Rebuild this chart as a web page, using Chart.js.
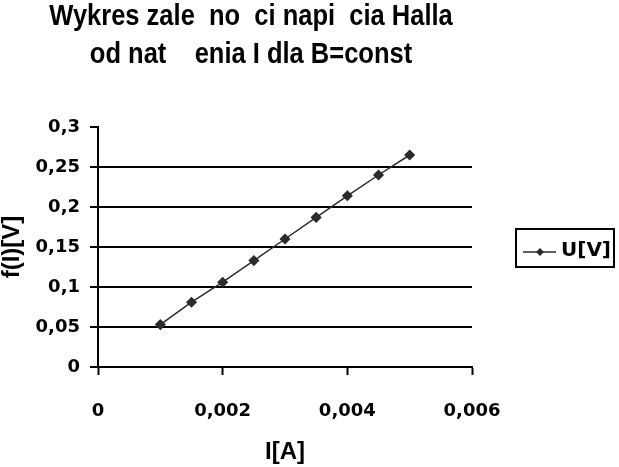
<!DOCTYPE html>
<html>
<head>
<meta charset="utf-8">
<script src="https://cdn.jsdelivr.net/npm/chart.js@4.4.0/dist/chart.umd.min.js"></script>
<style>
  html, body { margin: 0; padding: 0; background: #fff; }
</style>
</head>
<body>
<canvas id="myChart" width="619" height="467"></canvas>
<script>
// title as it shows in the picture (Polish letters lost in the original)
const titleLines = ['Wykres zale  no  ci napi  cia Halla', 'od nat    enia I dla B=const'];

// measured points
const currentA = [0.001, 0.0015, 0.002, 0.0025, 0.003, 0.0035, 0.004, 0.0045, 0.005];
const voltageV = [0.053, 0.081, 0.106, 0.133, 0.160, 0.187, 0.214, 0.240, 0.265];
const seriesName = 'U[V]';

const xTickLabels = ['0', '0,002', '0,004', '0,006'];
const yTickLabels = ['0', '0,05', '0,1', '0,15', '0,2', '0,25', '0,3'];

const tickFont = { family: '"DejaVu Sans", sans-serif', weight: 'bold', size: 18 };
const axisTitleFont = { family: '"Liberation Sans", Arial, sans-serif', weight: 'bold', size: 24, lineHeight: 1 };

// two line header, a bit condensed like the original
const headerPlugin = {
    id: 'header',
    afterDraw(chart) {
        const c = chart.ctx;
        c.save();
        c.fillStyle = '#000';
        c.font = 'bold 30px "Liberation Sans", Arial, sans-serif';
        c.textAlign = 'center';
        c.textBaseline = 'alphabetic';
        [25, 63].forEach((y, i) => {
            c.save();
            c.translate(251, y);
            c.scale(0.85, 1);
            c.fillText(titleLines[i], 0, 0);
            c.restore();
        });
        c.restore();
    }
};

// boxed legend on the right
const boxLegend = {
    id: 'boxLegend',
    afterDraw(chart) {
        const c = chart.ctx;
        const ds = chart.data.datasets[0];
        c.save();
        c.strokeStyle = '#000';
        c.lineWidth = 2;
        c.strokeRect(516, 229, 98, 38);
        c.strokeStyle = ds.borderColor;
        c.lineWidth = 1.5;
        c.beginPath();
        c.moveTo(523, 252);
        c.lineTo(556, 252);
        c.stroke();
        c.fillStyle = ds.pointBackgroundColor;
        c.beginPath();
        c.moveTo(540, 248);
        c.lineTo(544, 252);
        c.lineTo(540, 256);
        c.lineTo(536, 252);
        c.closePath();
        c.fill();
        c.fillStyle = '#000';
        c.font = 'bold 20px "DejaVu Sans", sans-serif';
        c.textAlign = 'left';
        c.textBaseline = 'middle';
        c.fillText(ds.label, 561, 251);
        c.restore();
    }
};

const ctx = document.getElementById('myChart');

let chart = new Chart(ctx, {
    type: 'line',
    data: {
        datasets: [{
            label: seriesName,
            data: currentA.map((x, i) => ({ x: x, y: voltageV[i] })),
            borderColor: '#2b2b2b',
            borderWidth: 1.5,
            pointStyle: 'rectRot',
            pointRadius: 4.5,
            pointBackgroundColor: '#2b2b2b',
            pointBorderColor: '#2b2b2b',
            tension: 0
        }]
    },
    options: {
        responsive: false,
        animation: false,
        layout: { padding: { top: 127, right: 147, left: 0, bottom: 0 } },
        plugins: {
            legend: { display: false },
            title: { display: false },
            tooltip: { enabled: false }
        },
        scales: {
            x: {
                type: 'linear',
                min: 0,
                max: 0.006,
                afterFit: s => { s.height = 100; },
                ticks: {
                    stepSize: 0.002,
                    color: '#000',
                    font: tickFont,
                    padding: 26,
                    maxRotation: 0,
                    callback: (v, i) => xTickLabels[i]
                },
                grid: {
                    drawOnChartArea: false,
                    drawTicks: true,
                    tickLength: 8,
                    tickColor: '#000',
                    tickWidth: 2
                },
                border: { display: true, color: '#000', width: 2 },
                title: { display: true, text: 'I[A]', color: '#000', font: axisTitleFont, padding: 3 }
            },
            y: {
                min: 0,
                max: 0.3,
                afterFit: s => { s.width = 98; },
                ticks: {
                    stepSize: 0.05,
                    color: '#000',
                    font: tickFont,
                    padding: 10,
                    callback: (v, i) => yTickLabels[i]
                },
                grid: {
                    color: c => c.index === yTickLabels.length - 1 ? 'rgba(0,0,0,0)' : '#000',
                    lineWidth: 2,
                    tickLength: 8,
                    tickColor: '#000',
                    tickWidth: 2
                },
                border: { display: true, color: '#000', width: 2 },
                title: { display: true, text: 'f(I)[V]', color: '#000', font: axisTitleFont, padding: 0 }
            }
        }
    },
    plugins: [headerPlugin, boxLegend]
});
</script>
</body>
</html>
